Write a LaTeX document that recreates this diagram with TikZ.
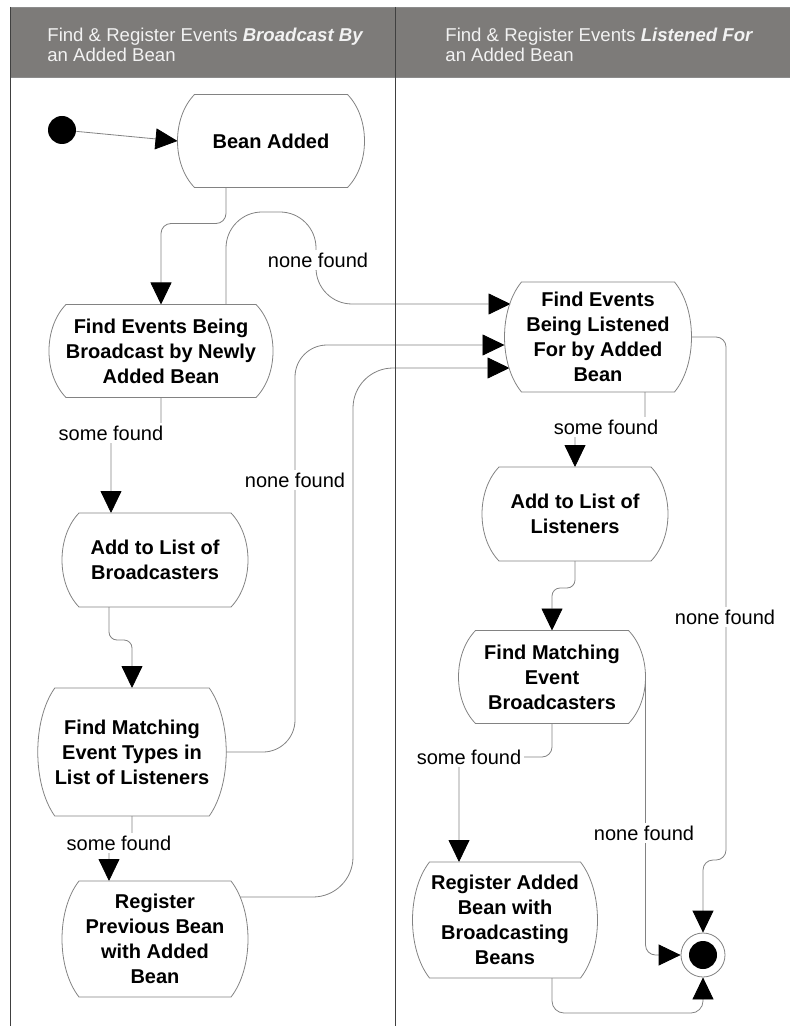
\documentclass[tikz,border=0pt]{standalone}
\usepackage{fontspec}
\setmainfont{Liberation Sans}
\usetikzlibrary{arrows.meta, calc, backgrounds}
\definecolor{headgray}{RGB}{125,123,121}
\definecolor{linegray}{RGB}{130,130,130}
\tikzstyle{activity} = [rectangle, inner sep=0pt, outer xsep=8.5pt, outer ysep=0pt, minimum width=76.5pt, minimum height=46.5pt, align=center, font=\fontsize{10}{12.5}\selectfont\bfseries,
	append after command={\pgfextra{\let\actnode\tikzlastnode
		\draw [linegray, line width=0.4pt] ($(\actnode.north west)+(8.5pt,0)$) -- ($(\actnode.north east)+(-8.5pt,0)$)
			.. controls ($(\actnode.north east)!0.25!(\actnode.south east)+(2.83pt,0)$) and ($(\actnode.north east)!0.75!(\actnode.south east)+(2.83pt,0)$) .. ($(\actnode.south east)+(-8.5pt,0)$)
			-- ($(\actnode.south west)+(8.5pt,0)$)
			.. controls ($(\actnode.north west)!0.75!(\actnode.south west)+(-2.83pt,0)$) and ($(\actnode.north west)!0.25!(\actnode.south west)+(-2.83pt,0)$) .. ($(\actnode.north west)+(8.5pt,0)$) -- cycle;}}]
\tikzstyle{guard} = [fill=white, inner sep=1.5pt, font=\fontsize{10}{12}\selectfont]
\tikzstyle{startdot} = [circle, fill=black, inner sep=0pt, minimum size=14pt]
\tikzstyle{enddot} = [circle, draw=linegray, line width=0.4pt, fill=white, inner sep=0pt, minimum size=22pt, path picture={\fill[black] (path picture bounding box.center) circle (7pt);}]
\tikzstyle{lanetitle} = [align=left, inner sep=0pt, text=white!95!black, font=\fontsize{9.3}{10}\selectfont]
\tikzstyle{lane} = [draw=black!75, line width=0.5pt]
\tikzstyle{arrow} = [draw=linegray, line width=0.4pt, -{Triangle[length=11pt,width=10.5pt,color=black]}]

\begin{document}
\begin{tikzpicture}[x=0.5pt, y=-0.5pt]
	\useasboundingbox (0,0) rectangle (790,1026);
	\fill [headgray, draw=black!45] (10,7) rectangle (790,77);
	\draw [lane] (10,7) -- (10,1026);
	\draw [lane] (395,7) -- (395,1026);
	\node (LaneBroadcast) [lanetitle, anchor=north west] at (47,28) {Find \& Register Events \textbf{\textit{Broadcast By}}\\an Added Bean};
	\node (LaneListened) [lanetitle, anchor=north west] at (445,28) {Find \& Register Events \textbf{\textit{Listened For}}\\an Added Bean};
	\node (Start) [startdot] at (62,130) {};
	\node (BeanAdded) [activity] at (271,141) {Bean Added};
	\node (FindBroadcast) [activity, minimum width=93.5pt] at (161,351) {Find Events Being\\Broadcast by Newly\\Added Bean};
	\node (AddBroadcasters) [activity, minimum width=76pt, minimum height=47pt] at (155,560) {Add to List of\\Broadcasters};
	\node (FindTypes) [activity, minimum height=64pt] at (132,752) {Find Matching\\Event Types in\\List of Listeners};
	\node (RegisterPrevious) [activity, minimum width=76pt, minimum height=58pt] at (155,939) {Register\\Previous Bean\\with Added\\Bean};
	\node (FindListened) [activity, minimum height=55pt] at (598,337) {Find Events\\Being Listened\\For by Added\\Bean};
	\node (AddListeners) [activity, minimum width=76pt, minimum height=47pt] at (575,514) {Add to List of\\Listeners};
	\node (FindBroadcasters) [activity] at (552,677) {Find Matching\\Event\\Broadcasters};
	\node (RegisterAdded) [activity, minimum width=75.5pt, minimum height=58pt] at (505,920) {Register Added\\Bean with\\Broadcasting\\Beans};
	\node (End) [enddot] at (703,955) {};
	\node (NoneTop) [guard] at (318,260) {none found};
	\node (SomeBroadcast) [guard] at (111,433) {some found};
	\node (NoneTypes) [guard] at (295,480) {none found};
	\node (SomeTypes) [guard] at (119,843) {some found};
	\node (SomeListened) [guard] at (606,427) {some found};
	\node (NoneListened) [guard] at (725,617) {none found};
	\node (SomeBroadcasters) [guard] at (469,757) {some found};
	\node (NoneBroadcasters) [guard] at (644,833) {none found};
	\begin{scope}[on background layer]
		\draw [arrow] (Start) -- (BeanAdded.west);
		\draw [arrow, rounded corners=5pt] ($(BeanAdded.south)+(-45,0)$) -- ++(0,36) -| (FindBroadcast.north);
		\draw [arrow, rounded corners=18pt] ($(FindBroadcast.north)+(65,0)$) |- ($(NoneTop)+(-2,-48)$) |- ($(FindListened.west)+(6,-33)$);
		\draw [arrow, rounded corners=5pt] (FindBroadcast.south) |- ($(AddBroadcasters.north)+(-44,-80)$) -- ($(AddBroadcasters.north)+(-44,0)$);
		\draw [arrow, rounded corners=4pt] ($(AddBroadcasters.south)+(-46,0)$) -- ++(0,33) -| (FindTypes.north);
		\draw [arrow, rounded corners=16pt] (FindTypes.east) -| (NoneTypes.center) |- ($(FindListened.west)+(0,8)$);
		\draw [arrow, rounded corners=20pt] ($(RegisterPrevious.east)+(-8,-42)$) -- ++(113,0) |- ($(FindListened.west)+(5,31)$);
		\draw [arrow, rounded corners=5pt] (FindTypes.south) |- ($(RegisterPrevious.north)+(-46,-38)$) -- ($(RegisterPrevious.north)+(-46,0)$);
		\draw [arrow, rounded corners=5pt] ($(FindListened.south)+(47,0)$) |- ($(AddListeners.north)+(0,-40)$) -- (AddListeners.north);
		\draw [arrow, rounded corners=5pt] (FindListened.east) -| ($(NoneListened)+(1,243)$) -| (End.north);
		\draw [arrow, rounded corners=4pt] (AddListeners.south) -- ++(0,27) -| (FindBroadcasters.north);
		\draw [arrow, rounded corners=5pt] (FindBroadcasters.south) |- ($(RegisterAdded.north)+(-46,-105)$) -- ($(RegisterAdded.north)+(-46,0)$);
		\draw [arrow, rounded corners=5pt] (FindBroadcasters.east) |- (End.west);
		\draw [arrow, rounded corners=6pt] ($(RegisterAdded.south)+(47,0)$) -- ++(0,35) -| (End.south);
	\end{scope}
\end{tikzpicture}
\end{document}
